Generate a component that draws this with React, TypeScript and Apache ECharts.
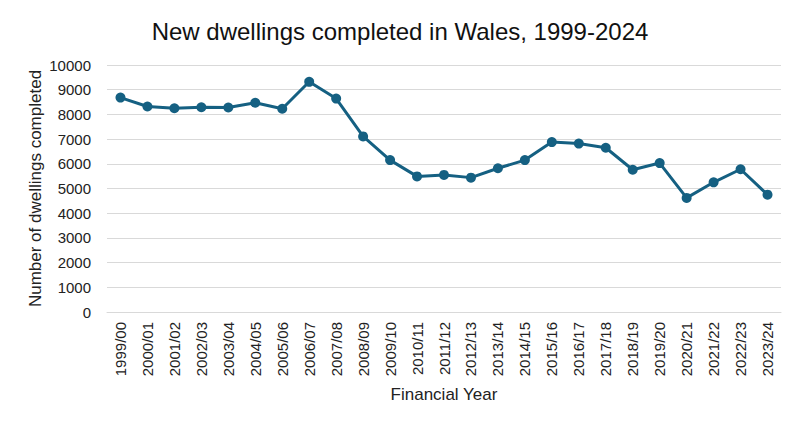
import React, { useEffect, useRef } from "react";
import * as echarts from "echarts";

const categories = [
  "1999/00","2000/01","2001/02","2002/03","2003/04","2004/05","2005/06","2006/07",
  "2007/08","2008/09","2009/10","2010/11","2011/12","2012/13","2013/14","2014/15",
  "2015/16","2016/17","2017/18","2018/19","2019/20","2020/21","2021/22","2022/23","2023/24",
];
const dwellings = [
  8680, 8320, 8250, 8290, 8280, 8470, 8230, 9320,
  8640, 7110, 6150, 5490, 5550, 5440, 5820, 6150,
  6880, 6820, 6650, 5760, 6030, 4620, 5250, 5780, 4750,
];

export default function App() {
  const ref = useRef<HTMLDivElement>(null);
  useEffect(() => {
    if (!ref.current) return;
    const chart = echarts.init(ref.current, null, { renderer: "svg" });
    chart.setOption({
      animation: false,
      title: {
        text: "New dwellings completed in Wales, 1999-2024",
        left: "center",
        top: 14,
        textStyle: {
          fontFamily: "Liberation Sans, Arial, sans-serif",
          fontSize: 24,
          fontWeight: "normal",
          color: "#111",
        },
      },
      grid: { left: 107, right: 19, top: 65, bottom: 116 },
      xAxis: {
        type: "category",
        data: categories,
        boundaryGap: true,
        name: "Financial Year",
        nameLocation: "middle",
        nameGap: 74,
        nameMoveOverlap: false,
        nameTextStyle: { fontFamily: "Liberation Sans, Arial, sans-serif", fontSize: 17, color: "#222" },
        axisLine: { show: true, lineStyle: { color: "#d9d9d9" } },
        axisTick: { show: false },
        axisLabel: {
          rotate: 90,
          interval: 0,
          margin: 10,
          fontFamily: "Liberation Sans, Arial, sans-serif",
          fontSize: 15,
          color: "#222",
        },
      },
      yAxis: {
        type: "value",
        min: 0,
        max: 10000,
        interval: 1000,
        name: "Number of dwellings completed",
        nameLocation: "middle",
        nameGap: 63,
        nameMoveOverlap: false,
        nameTextStyle: { fontFamily: "Liberation Sans, Arial, sans-serif", fontSize: 17, color: "#222" },
        axisLine: { show: false },
        axisTick: { show: false },
        axisLabel: {
          margin: 16,
          formatter: (v: number) => String(v),
          fontFamily: "Liberation Sans, Arial, sans-serif",
          fontSize: 15,
          color: "#222",
        },
        splitLine: { lineStyle: { color: "#d9d9d9", width: 1 } },
      },
      series: [
        {
          type: "line",
          data: dwellings,
          symbol: "circle",
          symbolSize: 10,
          lineStyle: { color: "#156082", width: 3 },
          itemStyle: { color: "#156082" },
        },
      ],
    });
    return () => chart.dispose();
  }, []);
  return <div ref={ref} style={{ width: 800, height: 428, position: "absolute", left: 0, top: 0 }} />;
}
